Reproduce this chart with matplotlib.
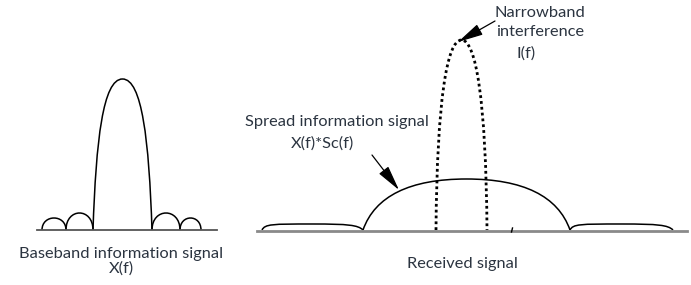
import matplotlib
matplotlib.use("Agg")
import matplotlib.pyplot as plt
from matplotlib.path import Path
from matplotlib.patches import PathPatch

# all coordinates are in picture pixels (x right, y down)
base_y = 230

# left panel: baseband sinc spectrum
left_base = (37, 217)
main_lobe = (93, 152, 79)            # x start, x end, peak y
side_lobes = [(42, 66, 218), (66, 93, 213),
              (152, 180, 213), (180, 201, 218)]

# right panel: received spectrum
right_base = (257, 687)
spread_lobe = (363, 570, 179)
flat_lobes = [(262, 363, 224), (570, 673, 224)]
interference = (436, 487, 40)

text_color = "#2b3440"
labels = [
    (121, 254, "Baseband information signal"),
    (121, 269, "X(f)"),
    (462, 264, "Received signal"),
    (337, 122, "Spread information signal"),
    (322, 144, "X(f)*Sc(f)"),
    (540, 13, "Narrowband"),
    (540, 32, "interference"),
    (526, 54, "I(f)"),
]
arrows = [((372, 155), (399, 190)), ((495, 21), (458, 42))]


def arc(x0, x1, top):
    h = (base_y - top) * 4.0 / 3.0
    verts = [(x0, base_y), (x0, base_y - h), (x1, base_y - h), (x1, base_y)]
    return Path(verts, [Path.MOVETO] + [Path.CURVE4] * 3)


def flat(x0, x1, top):
    verts = [(x0, base_y), (x0 + 3, top), (x0 + 10, top), ((x0 + x1) / 2, top),
             (x1 - 15, top), (x1 - 5, top + 1), (x1, base_y)]
    return Path(verts, [Path.MOVETO] + [Path.CURVE4] * 6)


fig = plt.figure(figsize=(6.91, 2.85), dpi=100)
ax = fig.add_axes([0, 0, 1, 1])
ax.set_xlim(0, 691)
ax.set_ylim(285, 0)
ax.axis("off")

lw = 1.1
# baselines
ax.plot(left_base, [base_y, base_y], color="#555555", lw=1.3)
ax.plot(right_base, [base_y + 0.5, base_y + 0.5], color="#8a8a8a", lw=2.0)
ax.plot([511.5, 512.5], [232, 228], color="black", lw=1.0)

# left panel curves
x0, x1, top = main_lobe
ml = Path([(x0, base_y), (x0 + 3, 140), (x0 + 10, top), ((x0 + x1) / 2, top),
           (x1 - 10, top), (x1 - 3, 140), (x1, base_y)],
          [Path.MOVETO] + [Path.CURVE4] * 6)
ax.add_patch(PathPatch(ml, fill=False, lw=lw, color="black"))
for s in side_lobes:
    ax.add_patch(PathPatch(arc(*s), fill=False, lw=lw, color="black"))

# right panel curves
x0, x1, top = spread_lobe
sp = Path([(x0, base_y), (x0 + 12, 196), (x0 + 47, top), ((x0 + x1) / 2, top),
           (x1 - 47, top), (x1 - 12, 196), (x1, base_y)],
          [Path.MOVETO] + [Path.CURVE4] * 6)
ax.add_patch(PathPatch(sp, fill=False, lw=lw, color="black"))
for f in flat_lobes:
    ax.add_patch(PathPatch(flat(*f), fill=False, lw=lw, color="black"))

x0, x1, top = interference
xm = (x0 + x1) / 2.0
nb = Path([(x0, base_y), (x0 + 1, 100), (x0 + 11, top), (xm, top),
           (x1 - 11, top), (x1 - 1, 100), (x1, base_y)],
          [Path.MOVETO] + [Path.CURVE4] * 6)
ax.add_patch(PathPatch(nb, fill=False, lw=2.0, color="black",
                       linestyle=(0, (1, 1.1)), capstyle="butt"))

for (tx, ty), (hx, hy) in arrows:
    ax.annotate("", xy=(hx, hy), xytext=(tx, ty),
                arrowprops=dict(arrowstyle="-|>,head_length=1.3,head_width=0.3",
                                color="black", lw=0.9, mutation_scale=12,
                                shrinkA=0, shrinkB=0))

for x, y, s in labels:
    ax.text(x, y, s, ha="center", va="center", fontsize=11.8,
            family=["Lato", "DejaVu Sans"], color=text_color)

fig.savefig("out.png", dpi=100)
